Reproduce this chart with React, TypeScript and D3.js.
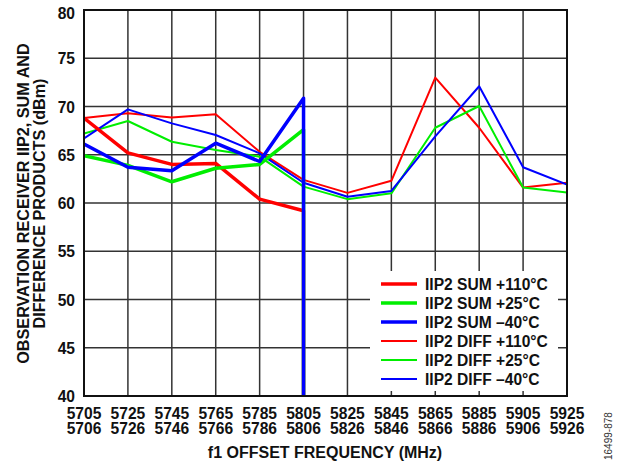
import React from "react";
import * as d3 from "d3";

const freqTop = ["5705","5725","5745","5765","5785","5805","5825","5845","5865","5885","5905","5925"];
const freqBottom = ["5706","5726","5746","5766","5786","5806","5826","5846","5866","5886","5906","5926"];
const yTicks = [40,45,50,55,60,65,70,75,80];

// SUM series: values at categories 0..5, then a drop to the axis floor at category 5
const sum110 = [68.8, 65.2, 64.0, 64.1, 60.4, 59.2];
const sum25 = [64.9, 63.9, 62.2, 63.6, 64.0, 67.6];
const sumM40 = [66.1, 63.7, 63.35, 66.2, 64.3, 70.85];
const sumDrop = 40;

const diff110 = [68.8, 69.3, 68.85, 69.2, 65.3, 62.4, 61.05, 62.3, 73.0, 67.8, 61.6, 62.1];
const diff25 = [67.2, 68.5, 66.35, 65.5, 64.8, 61.7, 60.4, 61.0, 67.8, 70.05, 61.6, 61.1];
const diffM40 = [66.7, 69.7, 68.25, 67.05, 65.15, 62.1, 60.65, 61.25, 66.9, 72.1, 63.7, 61.9];

const seriesNames = ["IIP2 SUM +110°C","IIP2 SUM +25°C","IIP2 SUM –40°C","IIP2 DIFF +110°C","IIP2 DIFF +25°C","IIP2 DIFF –40°C"];
const colors = ["#ff0000", "#00ee00", "#0000ff"];

export default function App() {
  const W = 617, H = 463;
  const L = 84, R = 567, T = 10, B = 396;
  const x = d3.scaleLinear().domain([0, freqTop.length - 1]).range([L, R]);
  const y = d3.scaleLinear().domain([40, 80]).range([B, T]);
  const line = d3.line<[number, number]>().x(d => x(d[0])).y(d => y(d[1]));
  const font = "'Liberation Sans', Arial, sans-serif";

  const sumPts = (arr: number[]): [number, number][] => {
    const p: [number, number][] = arr.map((v, i) => [i, v]);
    p.push([arr.length - 1, sumDrop]);
    return p;
  };
  const diffPts = (arr: number[]): [number, number][] => arr.map((v, i) => [i, v]);

  const sums = [sum110, sum25, sumM40];
  const diffs = [diff110, diff25, diffM40];

  const legX = 370, legY = 271, legW = 188, legH = 120;
  const rowY = (i: number) => 284 + i * 19;
  const fs = 15.6;

  return (
    <svg width={W} height={H} style={{ position: "absolute", left: 0, top: 0, background: "#fff" }}>
      <defs>
        <clipPath id="plot">
          <rect x={L} y={T} width={R - L} height={B - T} />
        </clipPath>
      </defs>
      {freqTop.map((_, i) => (
        <line key={"gx" + i} x1={x(i)} x2={x(i)} y1={T} y2={B} stroke="#333" strokeWidth={1.5} />
      ))}
      {yTicks.map(v => (
        <line key={"gy" + v} x1={L} x2={R} y1={y(v)} y2={y(v)} stroke="#333" strokeWidth={1.5} />
      ))}
      <g clipPath="url(#plot)" fill="none" strokeLinejoin="round">
        {diffs.map((arr, k) => (
          <path key={"d" + k} d={line(diffPts(arr)) || ""} stroke={colors[k]} strokeWidth={2} />
        ))}
        {sums.map((arr, k) => (
          <path key={"s" + k} d={line(sumPts(arr)) || ""} stroke={colors[k]} strokeWidth={3.5} />
        ))}
      </g>
      <rect x={legX} y={legY} width={legW} height={legH} fill="#fff" />
      {seriesNames.map((n, i) => (
        <g key={n}>
          <line x1={381} x2={417} y1={rowY(i)} y2={rowY(i)} stroke={colors[i % 3]} strokeWidth={i < 3 ? 3.5 : 2} />
          <text x={425} y={rowY(i) + 6.3} fontFamily={font} fontWeight="bold" fontSize={fs} fill="#111">{n}</text>
        </g>
      ))}
      <rect x={L} y={T} width={R - L} height={B - T} fill="none" stroke="#111" strokeWidth={2} />
      {yTicks.map(v => (
        <text key={"yt" + v} x={75} y={y(v) + (v === 80 ? 8.5 : 6)} textAnchor="end" fontFamily={font} fontWeight="bold" fontSize={fs} fill="#111">{v}</text>
      ))}
      {freqTop.map((f, i) => (
        <g key={"xt" + i}>
          <text x={x(i)} y={418.5} textAnchor="middle" fontFamily={font} fontWeight="bold" fontSize={fs} fill="#111">{f}</text>
          <text x={x(i)} y={434} textAnchor="middle" fontFamily={font} fontWeight="bold" fontSize={fs} fill="#111">{freqBottom[i]}</text>
        </g>
      ))}
      <text x={325} y={458} textAnchor="middle" fontFamily={font} fontWeight="bold" fontSize={16} fill="#111">f1 OFFSET FREQUENCY (MHz)</text>
      <g transform="translate(29,203.5) rotate(-90)">
        <text x={0} y={0} textAnchor="middle" fontFamily={font} fontWeight="bold" fontSize={16.2} fill="#111">OBSERVATION RECEIVER IIP2, SUM AND</text>
        <text x={0} y={15.5} textAnchor="middle" fontFamily={font} fontWeight="bold" fontSize={16.2} fill="#111">DIFFERENCE PRODUCTS (dBm)</text>
      </g>
      <text transform="translate(612,460) rotate(-90)" textAnchor="start" fontFamily={font} fontSize={10} fill="#333">16499-878</text>
    </svg>
  );
}
